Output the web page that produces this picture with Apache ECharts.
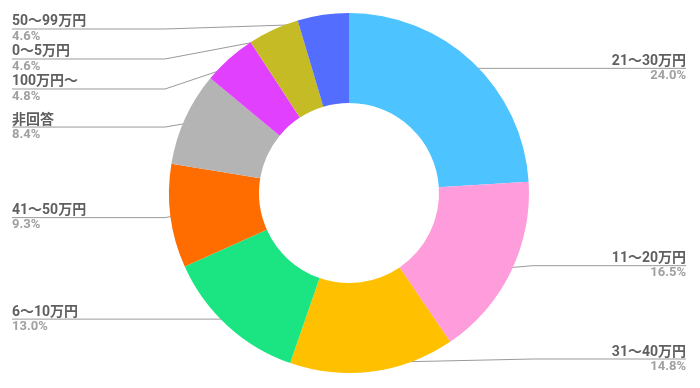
<!DOCTYPE html>
<html>
<head>
<meta charset="utf-8">
<script src="https://cdn.jsdelivr.net/npm/echarts@6/dist/echarts.min.js"></script>
<style>
html,body{margin:0;padding:0;background:#fff;}
#chart{width:700px;height:388px;}
</style>
</head>
<body>
<div id="chart"></div>
<script>
const categories = ['21～30万円', '11～20万円', '31～40万円', '6～10万円', '41～50万円', '非回答', '100万円～', '0～5万円', '50～99万円'];
const values = [24.0, 16.5, 14.8, 13.0, 9.3, 8.4, 4.8, 4.6, 4.6];
const colors = ['#4DC4FF', '#FF9CDB', '#FFC000', '#1BE582', '#FF6D00', '#B4B4B4', '#E240FF', '#C4BB25', '#536DFE'];

const CX = 349, CY = 193;
const VIEW = { left: 12, right: 14, top: 14, bottom: 14 };
const OUTER = 180, INNER = 90, LABEL_R = 171;

const data = categories.map((c, i) => ({ name: c, value: values[i], itemStyle: { color: colors[i] } }));
const labelData = categories.map((c, i) => ({ name: c, value: values[i] }));

const chart = echarts.init(document.getElementById('chart'), null, { renderer: 'canvas' });
const font = 'Roboto, "Noto Sans CJK JP", sans-serif';

chart.setOption({
  animation: false,
  backgroundColor: '#ffffff',
  series: [
    {
      type: 'pie',
      silent: true,
      left: VIEW.left, right: VIEW.right, top: VIEW.top, bottom: VIEW.bottom,
      center: [CX - VIEW.left, CY - VIEW.top],
      radius: [INNER, OUTER],
      startAngle: 90,
      clockwise: true,
      data: data,
      label: { show: false },
      labelLine: { show: false },
      itemStyle: { borderWidth: 0 }
    },
    {
      type: 'pie',
      silent: true,
      left: VIEW.left, right: VIEW.right, top: VIEW.top, bottom: VIEW.bottom,
      center: [CX - VIEW.left, CY - VIEW.top],
      radius: [0, LABEL_R],
      startAngle: 90,
      clockwise: true,
      data: labelData,
      itemStyle: { color: 'rgba(0,0,0,0)', borderWidth: 0 },
      emphasis: { disabled: true },
      label: {
        show: true,
        position: 'outer',
        alignTo: 'edge',
        edgeDistance: 0,
        distanceToLabelLine: 0,
        formatter: function (p) { return '{n|' + p.name + '}\n{v|' + p.value.toFixed(1) + '%}'; },
        rich: {
          n: { fontFamily: font, fontSize: 14, fontWeight: 'bold', color: '#5f5f5f', lineHeight: 15 },
          v: { fontFamily: font, fontSize: 13, fontWeight: 'bold', color: '#a0a0a0', lineHeight: 14 }
        }
      },
      labelLine: {
        show: true,
        length: 0,
        length2: 10,
        lineStyle: { color: '#9a9a9a', width: 1 }
      },
      labelLayout: function (p) {
        const pts = p.labelLinePoints;
        if (!pts || !pts.length) return {};
        const left = pts[0][0] < CX;
        const ly = pts[pts.length - 1][1];
        const W = chart.getWidth();
        const edge = left ? VIEW.left : W - VIEW.right;
        const knee = left ? CX - OUTER - 4 : CX + OUTER + 4;
        return { labelLinePoints: [pts[0].slice(), [knee, ly], [edge, ly]] };
      }
    }
  ]
});
</script>
</body>
</html>
